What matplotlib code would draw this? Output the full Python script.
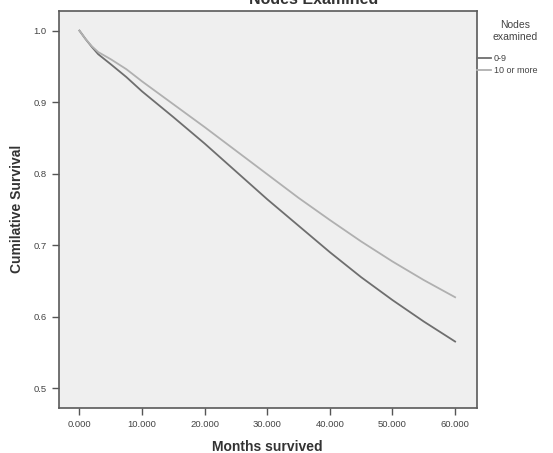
import numpy as np
import matplotlib
matplotlib.use("Agg")
import matplotlib.pyplot as plt
from matplotlib.ticker import FormatStrFormatter

# survival curves (months, cumulative survival)
months = [0, 1, 2, 3, 5, 7.5, 10, 15, 20, 25, 30, 35, 40, 45, 50, 55, 60]
surv_0_9 = [1.0, 0.988, 0.977, 0.967, 0.953, 0.935, 0.915, 0.879, 0.842,
            0.803, 0.764, 0.727, 0.690, 0.655, 0.623, 0.593, 0.565]
surv_10_more = [1.0, 0.988, 0.978, 0.970, 0.960, 0.946, 0.929, 0.897, 0.865,
                0.832, 0.799, 0.766, 0.735, 0.705, 0.677, 0.651, 0.627]
group_labels = ["0-9", "10 or more"]
x_ticks = [0, 10, 20, 30, 40, 50, 60]
y_ticks = [0.5, 0.6, 0.7, 0.8, 0.9, 1.0]

plt.rcParams["font.family"] = ["Liberation Sans", "DejaVu Sans"]

fig = plt.figure(figsize=(5.53, 4.53), dpi=100)
ax = fig.add_axes([0.1058, 0.0993, 0.7568, 0.8773])
ax.set_facecolor("#efefef")

ax.plot(months, surv_0_9, color="#6e6e6e", lw=1.3, label=group_labels[0])
ax.plot(months, surv_10_more, color="#b0b0b0", lw=1.3, label=group_labels[1])

ax.set_xlim(-3.34, 63.5)
ax.set_ylim(0.472, 1.028)
ax.set_xticks(x_ticks)
ax.set_yticks(y_ticks)
ax.xaxis.set_major_formatter(FormatStrFormatter("%.3f"))
ax.yaxis.set_major_formatter(FormatStrFormatter("%.1f"))
ax.tick_params(axis="both", direction="out", length=5, width=1.0,
               color="#555555", labelsize=6.8, labelcolor="#444444")

for sp in ax.spines.values():
    sp.set_color("#5a5a5a")
    sp.set_linewidth(1.2)

ax.set_xlabel("Months survived", fontsize=10, fontweight="bold",
              color="#333333", labelpad=8)
ax.set_ylabel("Cumilative Survival", fontsize=10, fontweight="bold",
              color="#333333", labelpad=7)

# chart title sits partly above the top edge, as in the reference
fig.text(0.568, 1 - 4 / 453, "Nodes Examined", fontsize=11.5,
         fontweight="bold", color="#333333", ha="center", va="baseline")

# legend title placed by hand to get the gap above the entries
fig.text(515 / 553, 1 - 31 / 453, "Nodes\nexamined", fontsize=7.5,
         color="#444444", ha="center", va="center", multialignment="center",
         linespacing=1.15)
leg = ax.legend(loc="upper left", bbox_to_anchor=(0.862, 1 - 54 / 453),
                bbox_transform=fig.transFigure, frameon=False,
                fontsize=6.5, handlelength=1.6, handletextpad=0.3,
                labelspacing=0.3, borderaxespad=0, borderpad=0)
for t in leg.get_texts():
    t.set_color("#444444")

fig.savefig("out.png", dpi=100)
